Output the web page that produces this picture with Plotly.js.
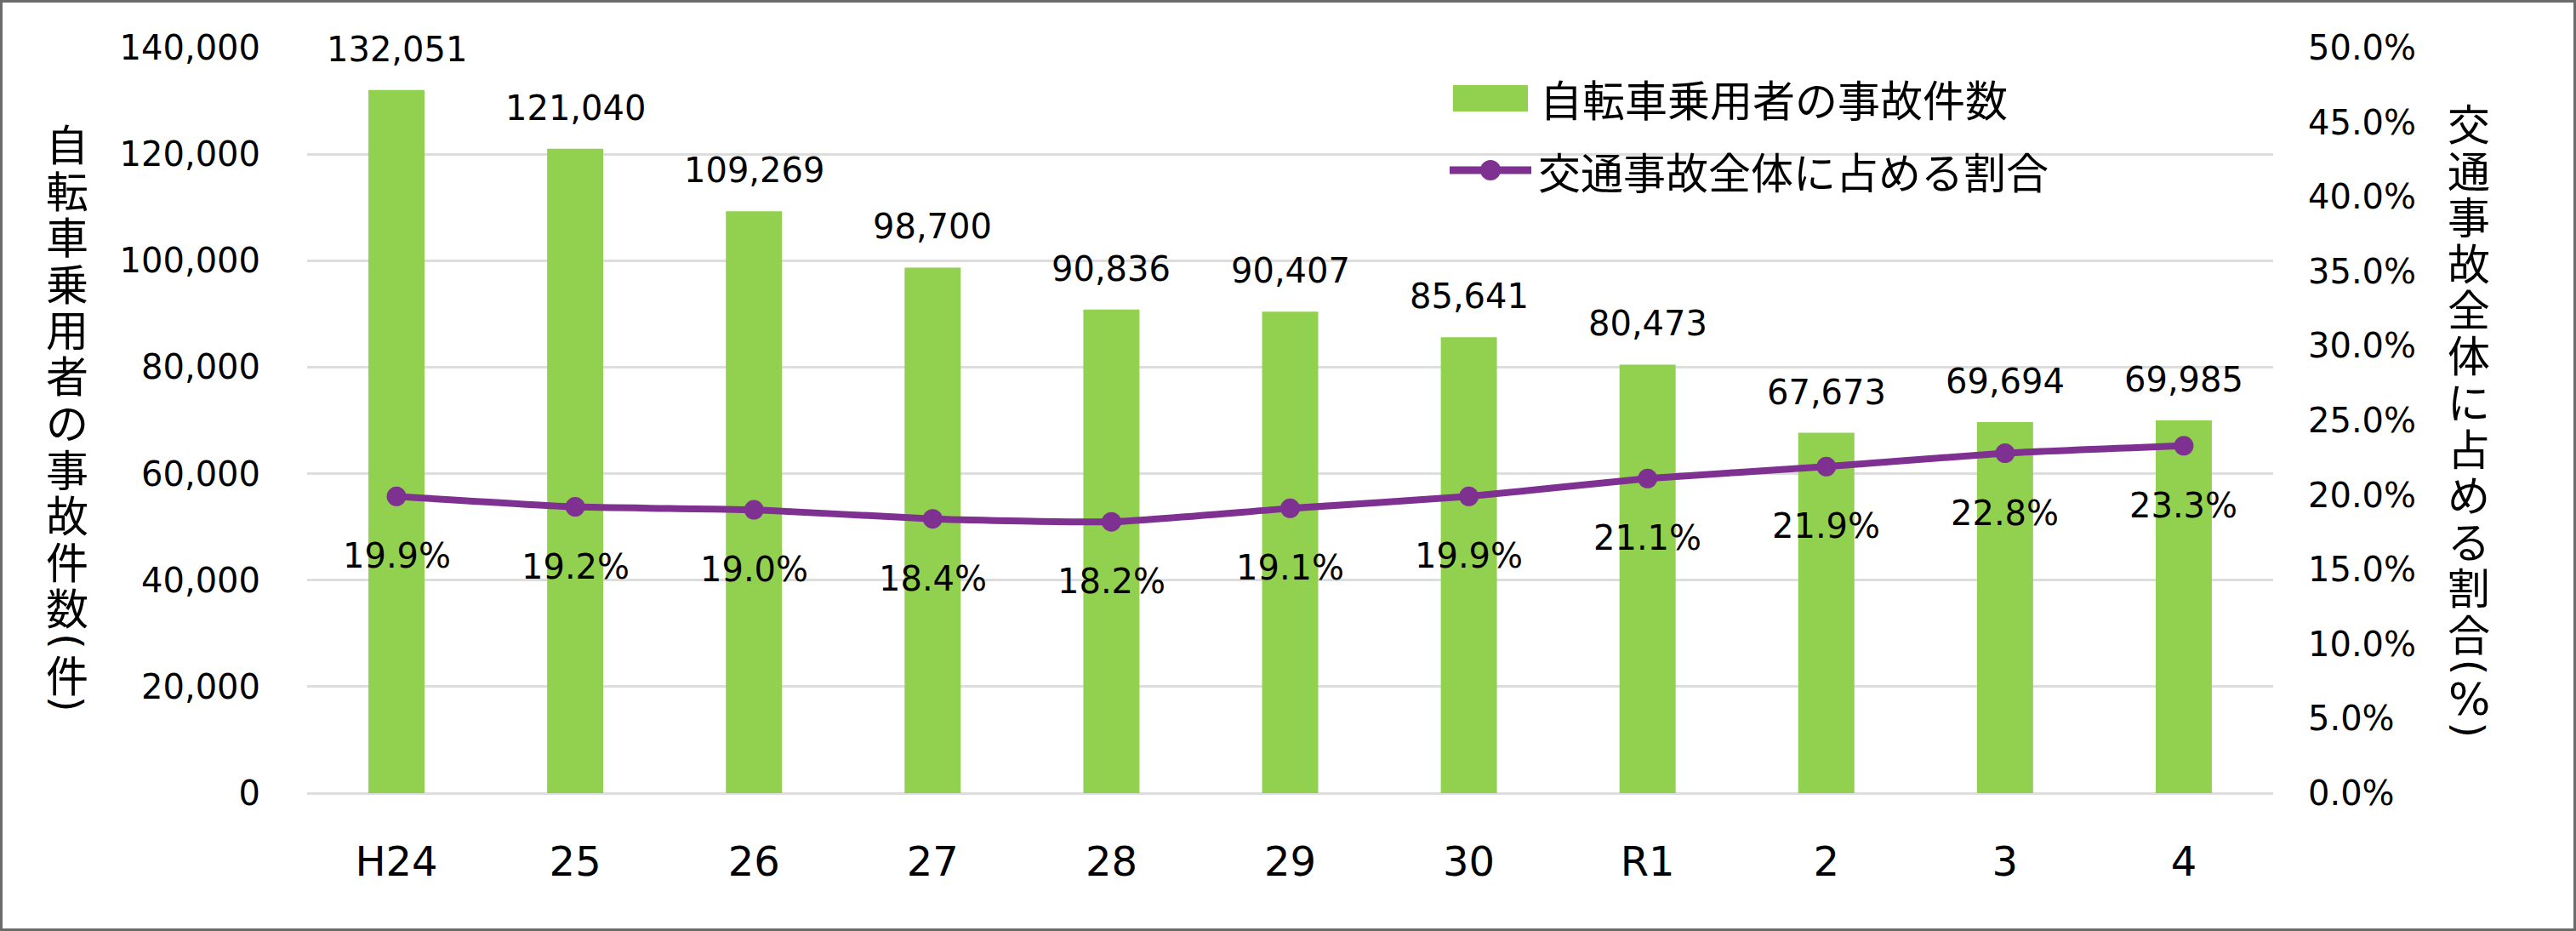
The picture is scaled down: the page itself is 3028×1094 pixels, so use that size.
<!DOCTYPE html>
<html>
<head>
<meta charset="utf-8">
<script src="https://cdn.plot.ly/plotly-3.0.1.min.js"></script>
<style>
html,body{margin:0;padding:0;background:#fff;}
#chart{width:3028px;height:1094px;}
</style>
</head>
<body>
<div id="chart"></div>
<script>
// ---- data ----
const categories = ['H24','25','26','27','28','29','30','R1','2','3','4'];
const accidentCounts = [132051,121040,109269,98700,90836,90407,85641,80473,67673,69694,69985];
const sharePercent = [19.9,19.2,19.0,18.4,18.2,19.1,19.9,21.1,21.9,22.8,23.3];
const seriesNames = ['自転車乗用者の事故件数','交通事故全体に占める割合'];
const leftTitle = '自転車乗用者の事故件数(件)';
const rightTitle = '交通事故全体に占める割合(%)';

// ---- layout geometry ----
const W = 3028, H = 1094;
const M = {l:361, r:356, t:56, b:162};
const PW = W - M.l - M.r, PH = H - M.t - M.b;
const px2x = px => (px - M.l) / PW;
const py2y = py => (H - M.b - py) / PH;

const NUMFONT = "'DejaVu Sans', 'Noto Sans CJK JP', sans-serif";
const JPFONT = "'Noto Sans CJK JP', 'DejaVu Sans', sans-serif";
const GREEN = '#92D050';
const PURPLE = '#7E3191';

const traces = [
  {
    type:'bar', x:categories, y:accidentCounts, name:seriesNames[0],
    marker:{color:GREEN}, hoverinfo:'skip', showlegend:false
  },
  {
    type:'scatter', mode:'lines+markers', x:categories, y:sharePercent, yaxis:'y2',
    name:seriesNames[1], line:{color:PURPLE, width:8, shape:'spline', smoothing:0.5},
    marker:{color:PURPLE, size:23}, hoverinfo:'skip', showlegend:false
  }
];

const annotations = [];
// data labels (x given as category index on the category axis)
categories.forEach((c,i)=>{
  annotations.push({x:i, y:accidentCounts[i], xref:'x', yref:'y', yshift:48,
    text:accidentCounts[i].toLocaleString('en-US'), showarrow:false, yanchor:'middle',
    font:{family:NUMFONT, size:40, color:'#000'}});
  annotations.push({x:i, y:sharePercent[i], xref:'x', yref:'y2', yshift:-70,
    text:sharePercent[i].toFixed(1)+'%', showarrow:false, yanchor:'middle',
    font:{family:NUMFONT, size:40, color:'#000'}});
});

// vertical titles, character by character
function verticalTitle(text, xc, yStart, step){
  const chars = Array.from(text);
  let y = yStart;
  let prev = null;
  chars.forEach((ch,i)=>{
    if(i>0){
      if(ch==='(' ) y += 41;
      else if(prev==='(') y += 38;
      else if(ch===')') y += 36;
      else y += step;
    }
    const isParen = (ch==='(' || ch===')');
    annotations.push({
      x:px2x(xc), y:py2y(y), xref:'paper', yref:'paper', showarrow:false,
      xanchor:'center', yanchor:'middle', text:ch,
      textangle: isParen ? 90 : 0,
      font:{family: (ch==='%'||isParen) ? NUMFONT : JPFONT, size: ch==='%' ? 52 : (isParen ? 48 : 50), color:'#000'}
    });
    prev = ch;
  });
}
verticalTitle(leftTitle, 79, 167, 54.5);
verticalTitle(rightTitle, 2902, 143, 54.5);

// legend (custom, to match symbol sizes)
annotations.push({x:px2x(1808), y:py2y(115), xref:'paper', yref:'paper', showarrow:false,
  xanchor:'left', yanchor:'middle', text:seriesNames[0], font:{family:JPFONT, size:50, color:'#000'}});
annotations.push({x:px2x(1806), y:py2y(200), xref:'paper', yref:'paper', showarrow:false,
  xanchor:'left', yanchor:'middle', text:seriesNames[1], font:{family:JPFONT, size:50, color:'#000'}});

const shapes = [
  {type:'rect', xref:'paper', yref:'paper', x0:px2x(1708), x1:px2x(1796), y0:py2y(131), y1:py2y(100),
   fillcolor:GREEN, line:{width:0}},
  {type:'line', xref:'paper', yref:'paper', x0:px2x(1704), x1:px2x(1800), y0:py2y(200), y1:py2y(200),
   line:{color:PURPLE, width:9}},
  {type:'circle', xref:'paper', yref:'paper', x0:px2x(1740), x1:px2x(1764), y0:py2y(212), y1:py2y(188),
   fillcolor:PURPLE, line:{width:0}},
  // outer border
  {type:'rect', xref:'paper', yref:'paper', x0:px2x(1.5), x1:px2x(W-1.5), y0:py2y(H-1.5), y1:py2y(1.5),
   line:{color:'#6B6B6B', width:3}, fillcolor:'rgba(0,0,0,0)', layer:'above'}
];

const layout = {
  width:W, height:H,
  margin:M,
  paper_bgcolor:'#fff', plot_bgcolor:'#fff',
  showlegend:false,
  bargap:0.686,
  font:{family:NUMFONT, color:'#000'},
  xaxis:{
    type:'category', range:[-0.5, categories.length-0.5], autorange:false,
    showgrid:false, zeroline:false, showline:false, ticks:'', tickangle:0,
    tickfont:{family:NUMFONT, size:48, color:'#000'}, ticklabelstandoff:48
  },
  yaxis:{
    range:[0,140000], dtick:20000, tickformat:',d',
    showgrid:true, gridcolor:'#DDDDDD', gridwidth:3, zeroline:true, zerolinecolor:'#DDDDDD', zerolinewidth:3,
    showline:false, ticks:'', tickfont:{family:NUMFONT, size:40, color:'#000'}, ticklabelstandoff:54
  },
  yaxis2:{
    overlaying:'y', side:'right', range:[0,50], dtick:5, tickformat:'.1f', ticksuffix:'%',
    showgrid:false, zeroline:false, showline:false, ticks:'',
    tickfont:{family:NUMFONT, size:40, color:'#000'}, ticklabelstandoff:40
  },
  annotations:annotations,
  shapes:shapes
};

Plotly.newPlot('chart', traces, layout, {staticPlot:true, displayModeBar:false});
</script>
</body>
</html>
